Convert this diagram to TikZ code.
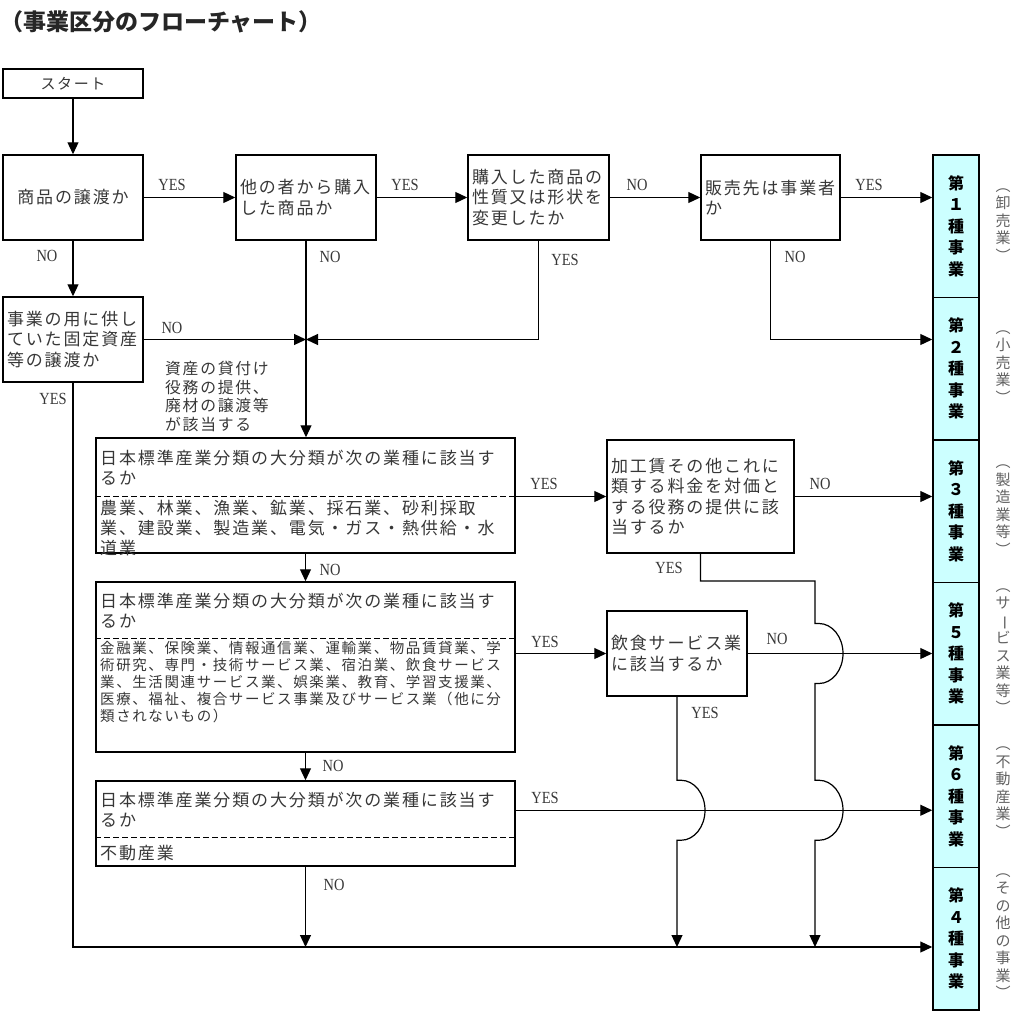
\documentclass[tikz,border=0pt]{standalone}
\usepackage{fontspec}
\setmainfont{Liberation Serif}
\newfontfamily\jp{Noto Sans CJK JP}
\newfontfamily\jpls{Noto Sans CJK JP}[LetterSpace=11]
\usetikzlibrary{arrows.meta,calc}
\definecolor{colfill}{RGB}{204,255,255}
\definecolor{txt}{RGB}{55,55,55}
\newcommand{\yn}[1]{\scalebox{0.85}[1]{#1}}
\newcommand{\vbar}{\rotatebox[origin=c]{-90}{ー}}
\tikzset{
  box/.style={draw, line width=1.5pt, rectangle, inner ysep=0pt, inner xsep=4pt, text=txt,
    font=\jpls\fontsize{17}{20.5}\selectfont, align=left},
  bigbox/.style={draw, line width=1.5pt, rectangle, inner sep=0pt, minimum width=419pt},
  boxtxt/.style={inner sep=0pt, text=txt, font=\jpls\fontsize{17}{20}\selectfont, align=left, anchor=north west},
  smalltxt/.style={inner sep=0pt, text=txt, font=\jpls\fontsize{14.5}{17}\selectfont, align=left, anchor=north west},
  notetxt/.style={inner sep=0pt, text=txt, font=\jpls\fontsize{15.8}{18.5}\selectfont, align=left, anchor=north west},
  lbl/.style={inner sep=0pt, text=txt, font=\fontsize{17}{17}\selectfont},
  conn/.style={line width=1.2pt},
  arr/.style={conn, -{Triangle[length=12pt,width=11pt]}},
  divline/.style={line width=1.3pt, dash pattern=on 6pt off 3pt},
  catbox/.style={draw, line width=1.5pt, fill=colfill, minimum width=46pt, minimum height=142.5pt,
    inner sep=0pt, font=\jp\bfseries\fontsize{16}{21.5}\selectfont, align=center},
  side/.style={inner sep=0pt, text=black!62, font=\jp\fontsize{15}{17.5}\selectfont, align=center}
}
\begin{document}
\begin{tikzpicture}[x=1pt,y=-1pt]
\useasboundingbox (0,0) rectangle (1016,1020);
% title
\node[inner sep=0pt, anchor=west, font=\jp\bfseries\fontsize{23}{23}\selectfont, text=black!85] (title) at (0,22) {（事業区分のフローチャート）};
% start
\node[draw, line width=1.5pt, minimum width=140pt, minimum height=29pt, inner sep=0pt, text=txt,
  font=\jpls\fontsize{15}{15}\selectfont] (start) at (73,83.5) {スタート};
% top row
\node[box, align=center, text width=132pt, minimum height=85pt] (A) at (73,197.5) {商品の譲渡か};
\node[box, text width=132pt, minimum height=85pt] (B) at (306,197.5) {他の者から購入\\した商品か};
\node[box, text width=133pt, minimum height=85pt] (C) at (538.5,197.5) {購入した商品の\\性質又は形状を\\変更したか};
\node[box, text width=131pt, minimum height=85pt] (D) at (770.5,197.5) {販売先は事業者\\か};
\node[box, text width=132pt, minimum height=85pt] (E) at (73,339.5) {事業の用に供し\\ていた固定資産\\等の譲渡か};
% big boxes
\node[bigbox, minimum height=115pt] (F) at (305.5,495.5) {};
\node[boxtxt] (Ft) at (100,449.5) {日本標準産業分類の大分類が次の業種に該当す\\るか};
\node[boxtxt] (Fl) at (100,499.5) {農業、林業、漁業、鉱業、採石業、砂利採取\\業、建設業、製造業、電気・ガス・熱供給・水\\道業};
\draw[divline] ([yshift=-59pt]F.north west) -- ([yshift=-59pt]F.north east);

\node[bigbox, minimum height=170pt] (H) at (305.5,667) {};
\node[boxtxt] (Ht) at (100,592.5) {日本標準産業分類の大分類が次の業種に該当す\\るか};
\node[smalltxt] (Hl) at (100,641) {金融業、保険業、情報通信業、運輸業、物品賃貸業、学\\術研究、専門・技術サービス業、宿泊業、飲食サービス\\業、生活関連サービス業、娯楽業、教育、学習支援業、\\医療、福祉、複合サービス事業及びサービス業（他に分\\類されないもの）};
\draw[divline] ([yshift=-57pt]H.north west) -- ([yshift=-57pt]H.north east);

\node[bigbox, minimum height=85pt] (J) at (305.5,823.5) {};
\node[boxtxt] (Jt) at (100,791.5) {日本標準産業分類の大分類が次の業種に該当す\\るか};
\node[boxtxt] (Jl) at (100,844.5) {不動産業};
\draw[divline] ([yshift=-57pt]J.north west) -- ([yshift=-57pt]J.north east);

\node[box, text width=179pt, minimum height=113pt] (G) at (700.5,496.5) {加工賃その他これに\\類する料金を対価と\\する役務の提供に該\\当するか};
\node[box, text width=132pt, minimum height=85pt] (I) at (677,653.5) {飲食サービス業\\に該当するか};

% category column
\node[catbox] (K1) at (956,226.25) {第\\１\\種\\事\\業};
\node[catbox] (K2) at (956,368.75) {第\\２\\種\\事\\業};
\node[catbox] (K3) at (956,511.25) {第\\３\\種\\事\\業};
\node[catbox] (K4) at (956,653.75) {第\\５\\種\\事\\業};
\node[catbox] (K5) at (956,796.25) {第\\６\\種\\事\\業};
\node[catbox] (K6) at (956,938.75) {第\\４\\種\\事\\業};
% side labels
\node[side] (S1) at (1003,225) {︵\\卸\\売\\業\\︶};
\node[side] (S2) at (1003,367) {︵\\小\\売\\業\\︶};
\node[side] (S3) at (1003,510) {︵\\製\\造\\業\\等\\︶};
\node[side] (S4) at (1003,651) {︵\\サ\\\vbar\\ビ\\ス\\業\\等\\︶};
\node[side] (S5) at (1003,792) {︵\\不\\動\\産\\業\\︶};
\node[side] (S6) at (1003,936) {︵\\そ\\の\\他\\の\\事\\業\\︶};

% note
\node[notetxt] (note) at (165,361) {資産の貸付け\\役務の提供、\\廃材の譲渡等\\が該当する};

% coordinates
\coordinate (merge) at (B.south |- E.east);
\coordinate (jy) at ([yshift=-30pt]J.north east);
\coordinate (bl) at (73,947);
\coordinate (gx) at (815,581);

% connectors
\draw[arr] (start.south) -- (A.north);
\draw[arr] (A.east) -- (B.west);
\draw[arr] (B.east) -- (C.west);
\draw[arr] (C.east) -- (D.west);
\draw[arr] (D.east) -- (D.east -| K1.west);
\draw[arr] (A.south) -- (E.north);
\draw[arr] (E.east) -- (merge);
\draw[arr] (C.south) |- (merge);
\draw[arr] (B.south) -- (B.south |- F.north);
\draw[arr] (D.south) |- (merge -| K2.west);
\draw[arr] (F.east |- G.west) -- (G.west);
\draw[arr] (G.east) -- (G.east -| K3.west);
\draw[arr] (F.south) -- (H.north);
\draw[arr] (H.east |- I.west) -- (I.west);
\draw[arr] (I.east) -- (I.east -| K4.west);
\draw[arr] (H.south) -- (J.north);
\draw[arr] (jy) -- (jy -| K5.west);
\draw[arr] (E.south) -- (bl) -- (bl -| K6.west);
\draw[arr] (J.south) -- (J.south |- bl);
\draw[arr] (G.south) |- (gx) -- ($(gx |- I.east)+(0,-30)$) -- ++(4,0)
  arc[start angle=90, end angle=-90, x radius=24pt, y radius=30pt] -- ++(-4,0)
  -- ($(gx |- jy)+(0,-30)$) -- ++(4,0)
  arc[start angle=90, end angle=-90, x radius=24pt, y radius=30pt] -- ++(-4,0)
  -- (gx |- bl);
\draw[arr] (I.south) -- ($(I.south |- jy)+(0,-30)$) -- ++(4,0)
  arc[start angle=90, end angle=-90, x radius=24pt, y radius=30pt] -- ++(-4,0)
  -- (I.south |- bl);

% labels
\node[lbl] (l1) at (172,185) {\yn{YES}};
\node[lbl] (l2) at (405,185) {\yn{YES}};
\node[lbl] (l3) at (637,185) {\yn{NO}};
\node[lbl] (l4) at (869,185) {\yn{YES}};
\node[lbl] (l5) at (47,256) {\yn{NO}};
\node[lbl] (l6) at (330,257) {\yn{NO}};
\node[lbl] (l7) at (565,260) {\yn{YES}};
\node[lbl] (l8) at (795,257) {\yn{NO}};
\node[lbl] (l9) at (172,328) {\yn{NO}};
\node[lbl] (l10) at (53,399) {\yn{YES}};
\node[lbl] (l11) at (544,484) {\yn{YES}};
\node[lbl] (l12) at (820,484) {\yn{NO}};
\node[lbl] (l13) at (669,568) {\yn{YES}};
\node[lbl] (l14) at (330,570) {\yn{NO}};
\node[lbl] (l15) at (545,642) {\yn{YES}};
\node[lbl] (l16) at (777,639) {\yn{NO}};
\node[lbl] (l17) at (705,713) {\yn{YES}};
\node[lbl] (l18) at (333,766) {\yn{NO}};
\node[lbl] (l19) at (545,798) {\yn{YES}};
\node[lbl] (l20) at (334,885) {\yn{NO}};
\end{tikzpicture}
\end{document}
